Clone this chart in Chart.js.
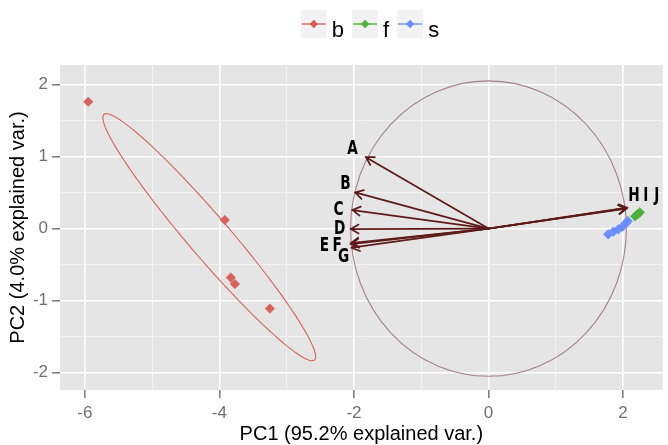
<!DOCTYPE html>
<html><head><meta charset="utf-8">
<script src="https://cdn.jsdelivr.net/npm/chart.js@4/dist/chart.umd.min.js"></script>
<style>html,body{margin:0;padding:0;background:#fff}#wrap{width:668px;height:445px}</style>
</head><body><div id="wrap"><canvas id="c" width="668" height="445"></canvas></div>
<script>
// ---- data ----
const groups = ['b', 'f', 's'];
const bX = [-5.95, -3.92, -3.83, -3.77, -3.25];
const bY = [1.76, 0.12, -0.68, -0.77, -1.11];
const fX = [2.18, 2.22, 2.25];
const fY = [0.17, 0.2, 0.225];
const sX = [1.78, 1.855, 1.93, 1.99, 2.04, 2.07];
const sY = [-0.08, -0.044, -0.011, 0.025, 0.072, 0.104];
const varNames = ['A', 'B', 'C', 'D', 'E', 'F', 'G', 'H', 'I', 'J'];
const arrowX = [-1.823, -1.982, -2.022, -2.047, -2.045, -2.045, -2.035, 2.06, 2.055, 2.05];
const arrowY = [0.991, 0.502, 0.257, -0.007, -0.2, -0.215, -0.265, 0.29, 0.283, 0.277];
const labelX = [-2.022, -2.125, -2.228, -2.214, -2.44, -2.25, -2.155, 2.162, 2.339, 2.501];
const labelY = [1.117, 0.631, 0.27, 0.007, -0.229, -0.229, -0.381, 0.465, 0.465, 0.465];
const circleRadius = [2.05];
const ellipseCenter = [-4.151, -0.12];
const ellipseMajor = [-1.565, 1.704];
const ellipseMinor = [0.232, 0.189];
const xTicks = [-6, -5, -4, -3, -2, -1, 0, 1, 2];
const xTickLabels = ['-6', '', '-4', '', '-2', '', '0', '', '2'];
const yTicks = [-2, -1.5, -1, -0.5, 0, 0.5, 1, 1.5, 2];
const yTickLabels = ['-2', '', '-1', '', '0', '', '1', '', '2'];
const xLimits = [-6.37, 2.59];
const yLimits = [-2.24, 2.27];

const colors = ['#D7625A', '#4DAF3C', '#6A8EFF'];
const arrowColor = '#5E1A1A';
const circleColor = '#A2838C';

const toPts = (xs, ys) => xs.map((x, i) => ({ x: x, y: ys[i] }));
const seriesX = [bX, fX, sX];
const seriesY = [bY, fY, sY];

const datasets = groups.map((g, i) => ({
  label: g,
  data: toPts(seriesX[i], seriesY[i]),
  pointStyle: 'rectRot',
  pointRadius: 4.8,
  pointHoverRadius: 4.8,
  backgroundColor: colors[i],
  borderColor: colors[i],
  borderWidth: 0.5,
  showLine: false
}));

const bgPlugin = {
  id: 'bg',
  beforeDraw(chart) {
    const { ctx, chartArea: a } = chart;
    ctx.save();
    ctx.fillStyle = '#E5E5E5';
    ctx.fillRect(a.left, a.top, a.right - a.left, a.bottom - a.top);
    ctx.restore();
  }
};

const biplotUnder = {
  id: 'biplotUnder',
  beforeDatasetsDraw(chart) {
    const { ctx, chartArea: a, scales: { x, y } } = chart;
    ctx.save();
    ctx.beginPath();
    ctx.rect(a.left, a.top, a.right - a.left, a.bottom - a.top);
    ctx.clip();
    const cx = x.getPixelForValue(0), cy = y.getPixelForValue(0);
    const rx = Math.abs(x.getPixelForValue(circleRadius[0]) - cx);
    const ry = Math.abs(y.getPixelForValue(circleRadius[0]) - cy);
    ctx.strokeStyle = circleColor;
    ctx.lineWidth = 1.1;
    ctx.beginPath();
    ctx.ellipse(cx, cy, rx, ry, 0, 0, Math.PI * 2);
    ctx.stroke();
    ctx.strokeStyle = arrowColor;
    ctx.lineWidth = 1.7;
    ctx.lineCap = 'round';
    for (let i = 0; i < varNames.length; i++) {
      const tx = x.getPixelForValue(arrowX[i]), ty = y.getPixelForValue(arrowY[i]);
      ctx.beginPath();
      ctx.moveTo(cx, cy);
      ctx.lineTo(tx, ty);
      const ang = Math.atan2(ty - cy, tx - cx);
      const L = 9, h = Math.PI / 6;
      ctx.moveTo(tx - L * Math.cos(ang - h), ty - L * Math.sin(ang - h));
      ctx.lineTo(tx, ty);
      ctx.lineTo(tx - L * Math.cos(ang + h), ty - L * Math.sin(ang + h));
      ctx.stroke();
    }
    ctx.restore();
  },
  afterDatasetsDraw(chart) {
    const { ctx, chartArea: a, scales: { x, y } } = chart;
    ctx.save();
    ctx.beginPath();
    ctx.rect(a.left, a.top, a.right - a.left, a.bottom - a.top);
    ctx.clip();
    ctx.strokeStyle = colors[0];
    ctx.lineWidth = 1.1;
    ctx.beginPath();
    const N = 120;
    for (let k = 0; k <= N; k++) {
      const t = (k / N) * Math.PI * 2;
      const dx = ellipseCenter[0] + Math.cos(t) * ellipseMajor[0] + Math.sin(t) * ellipseMinor[0];
      const dy = ellipseCenter[1] + Math.cos(t) * ellipseMajor[1] + Math.sin(t) * ellipseMinor[1];
      const px = x.getPixelForValue(dx), py = y.getPixelForValue(dy);
      if (k === 0) ctx.moveTo(px, py); else ctx.lineTo(px, py);
    }
    ctx.stroke();
    ctx.fillStyle = '#000000';
    ctx.font = 'bold 19px "DejaVu Sans"';
    ctx.textAlign = 'center';
    ctx.textBaseline = 'middle';
    for (let i = 0; i < varNames.length; i++) {
      const px = x.getPixelForValue(labelX[i]), py = y.getPixelForValue(labelY[i]);
      ctx.save();
      ctx.translate(px, py);
      ctx.scale(0.72, 1);
      ctx.fillText(varNames[i], 0, 1);
      ctx.restore();
    }
    ctx.restore();
  }
};

const legendPlugin = {
  id: 'ggLegend',
  afterDraw(chart) {
    const { ctx } = chart;
    ctx.save();
    ctx.font = '22px "Liberation Sans"';
    const keyW = 26, keyH = 28, gapText = 5, gapNext = 8;
    let total = 0;
    groups.forEach((g, i) => {
      total += keyW + gapText + ctx.measureText(g).width + (i < groups.length - 1 ? gapNext : 0);
    });
    let xPos = 370 - total / 2;
    const top = 10;
    groups.forEach((g, i) => {
      ctx.fillStyle = '#F2F2F2';
      ctx.fillRect(xPos, top, keyW, keyH);
      const my = top + keyH / 2;
      ctx.strokeStyle = colors[i];
      ctx.lineWidth = 1.4;
      ctx.beginPath();
      ctx.moveTo(xPos + 1, my);
      ctx.lineTo(xPos + keyW - 1, my);
      ctx.stroke();
      ctx.fillStyle = colors[i];
      ctx.beginPath();
      const r = 4.2, cxk = xPos + keyW / 2;
      ctx.moveTo(cxk, my - r); ctx.lineTo(cxk + r, my); ctx.lineTo(cxk, my + r); ctx.lineTo(cxk - r, my); ctx.closePath();
      ctx.fill();
      ctx.fillStyle = '#000000';
      ctx.textAlign = 'left';
      ctx.textBaseline = 'alphabetic';
      const tx = xPos + keyW + gapText;
      ctx.fillText(g, tx, 37);
      xPos = tx + ctx.measureText(g).width + gapNext;
    });
    ctx.restore();
  }
};

const isMajor = v => Number.isInteger(v) && (v % 2 === 0);
const isMajorY = v => Number.isInteger(v);

new Chart(document.getElementById('c'), {
  type: 'scatter',
  data: { datasets: datasets },
  options: {
    responsive: false,
    animation: false,
    devicePixelRatio: 1,
    layout: { padding: { top: 65, left: 0, right: 0, bottom: 0 } },
    plugins: { legend: { display: false }, tooltip: { enabled: false } },
    scales: {
      x: {
        type: 'linear',
        min: xLimits[0], max: xLimits[1],
        afterBuildTicks: s => { s.ticks = xTicks.map(v => ({ value: v })); },
        afterFit: s => { s.height = 55; },
        border: { display: false },
        grid: {
          color: c => (c.tick && isMajor(c.tick.value)) ? '#FFFFFF' : '#F3F3F3',
          lineWidth: c => (c.tick && isMajor(c.tick.value)) ? 1.6 : 0.9,
          drawTicks: true,
          tickLength: 8,
          tickWidth: 1.6,
          tickColor: c => (c.tick && isMajor(c.tick.value)) ? '#7F7F7F' : 'rgba(0,0,0,0)'
        },
        ticks: {
          autoSkip: false, maxRotation: 0,
          callback: v => { const k = xTicks.indexOf(v); return k >= 0 ? xTickLabels[k] : ''; },
          color: '#707070',
          font: { family: 'Liberation Sans', size: 17 },
          padding: 5
        },
        title: {
          display: true, text: 'PC1 (95.2% explained var.)', color: '#000000',
          font: { family: 'Liberation Sans', size: 20, lineHeight: 1 },
          padding: { top: 0, bottom: 1 }
        }
      },
      y: {
        type: 'linear',
        min: yLimits[0], max: yLimits[1],
        afterBuildTicks: s => { s.ticks = yTicks.map(v => ({ value: v })); },
        afterFit: s => { s.width = 60; },
        border: { display: false },
        grid: {
          color: c => (c.tick && isMajorY(c.tick.value)) ? '#FFFFFF' : '#F3F3F3',
          lineWidth: c => (c.tick && isMajorY(c.tick.value)) ? 1.6 : 0.9,
          drawTicks: true,
          tickLength: 8,
          tickWidth: 1.6,
          tickColor: c => (c.tick && isMajorY(c.tick.value)) ? '#7F7F7F' : 'rgba(0,0,0,0)'
        },
        ticks: {
          autoSkip: false,
          callback: v => { const k = yTicks.indexOf(v); return k >= 0 ? yTickLabels[k] : ''; },
          color: '#707070',
          font: { family: 'Liberation Sans', size: 17 },
          padding: 4
        },
        title: {
          display: true, text: 'PC2 (4.0% explained var.)', color: '#000000',
          font: { family: 'Liberation Sans', size: 20, lineHeight: 1 },
          padding: { top: 8, bottom: 0 }
        }
      }
    }
  },
  plugins: [bgPlugin, biplotUnder, legendPlugin]
});
</script>
</body></html>
